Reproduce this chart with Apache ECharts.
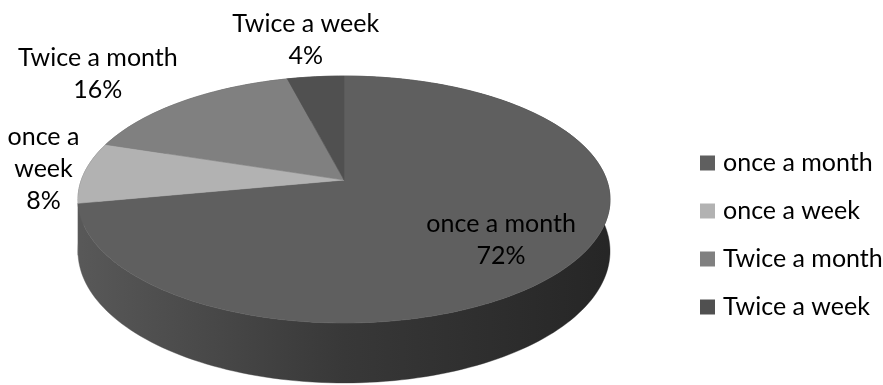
<!DOCTYPE html>
<html>
<head>
<meta charset="utf-8">
<script src="https://cdn.jsdelivr.net/npm/echarts@6/dist/echarts.min.js"></script>
<style>
  html, body { margin: 0; padding: 0; background: #ffffff; }
  #chart { width: 883px; height: 385px; }
</style>
</head>
<body>
<div id="chart"></div>
<script>
// Visit frequency shares (percent)
const categories = ['once a month', 'once a week', 'Twice a month', 'Twice a week'];
const shares = [72, 8, 16, 4];

// Face colour of each slice
const faceColors = ['#5f5f5f', '#b2b2b2', '#808080', '#505050'];

const FONT_FAMILY = 'Lato';
const FONT_SIZE = 25;
const LINE_HEIGHT = 32;

// Tilted disc with a light perspective: centre, radii, perspective factor, wall depth
const GEOM = { cx: 344, cy: 180, rx: 262.7, ry: 120.4, persp: 0.158, depth: 50.5 };

const total = shares.reduce((a, b) => a + b, 0);
const startAngles = [];
shares.reduce((acc, v, i) => { startAngles[i] = acc; return acc + v / total * 360; }, 0);

// Angle in degrees, clockwise from 12 o'clock; f = radius fraction; drop = wall offset
function project(deg, f, drop) {
  const t = deg * Math.PI / 180;
  const u = Math.sin(t) * f;
  const v = -Math.cos(t) * f;
  const k = 1 / (1 - GEOM.persp * v);
  return [GEOM.cx + GEOM.rx * u * k, GEOM.cy + (GEOM.ry * v + drop) * k];
}

const measureCtx = document.createElement('canvas').getContext('2d');
measureCtx.font = FONT_SIZE + 'px ' + FONT_FAMILY;
function textWidth(s) { return measureCtx.measureText(s).width; }

// Greedy word wrap to a maximum width
function wrap(text, maxWidth) {
  const out = [];
  text.split('\n').forEach(para => {
    let line = '';
    para.split(' ').forEach(w => {
      const trial = line ? line + ' ' + w : w;
      if (line && maxWidth && textWidth(trial) > maxWidth) { out.push(line); line = w; }
      else line = trial;
    });
    out.push(line);
  });
  return out;
}

// Outer wall lit from the left
const wallGradient = {
  type: 'linear', global: true,
  x: GEOM.cx - GEOM.rx, y: 0, x2: GEOM.cx + GEOM.rx, y2: 0,
  colorStops: [
    { offset: 0, color: '#585858' },
    { offset: 0.5, color: '#383838' },
    { offset: 1, color: '#262626' }
  ]
};

function makeRenderer(i) {
  return function (params, api) {
    const share = api.value(0);
    const span = share / total * 360;
    const a0 = startAngles[i];
    const n = Math.max(6, Math.ceil(span / 1.5));
    const topArc = [], lowArc = [];
    for (let s = 0; s <= n; s++) {
      const a = a0 + span * s / n;
      topArc.push(project(a, 1, 0));
      lowArc.push(project(a, 1, GEOM.depth));
    }
    const color = api.visual('color');

    // data label: inside for large slices, beside the rim otherwise
    const mid = a0 + span / 2;
    const labelText = categories[i] + '\n' + share + '%';
    const gap = 5;
    let cx, cy, lines;
    if (span > 90) {
      const p = project(mid, 0.72, 0);
      lines = wrap(labelText, 0);
      cx = p[0]; cy = p[1];
    } else {
      const t = mid * Math.PI / 180;
      const u = Math.sin(t), v = -Math.cos(t);
      const edge = project(mid, 1, 0);
      let maxW = 0;
      if (u < -0.35) maxW = edge[0] - gap - 2;
      else if (u > 0.35) maxW = api.getWidth() - edge[0] - gap - 2;
      lines = wrap(labelText, maxW);
      const boxW = Math.max.apply(null, lines.map(textWidth));
      const boxH = lines.length * LINE_HEIGHT;
      const halfW = boxW / 2 + gap;
      cx = Math.abs(u) > 0.35 ? edge[0] + Math.sign(u) * halfW : edge[0] + u * halfW;
      cy = edge[1] + v * (boxH / 2 + gap);
    }

    return {
      type: 'group',
      children: [
        { type: 'polygon', z2: 1, shape: { points: topArc.concat(lowArc.slice().reverse()) },
          style: { fill: wallGradient, stroke: wallGradient, lineWidth: 0.4 } },
        { type: 'polygon', z2: 10, shape: { points: [project(0, 0, 0)].concat(topArc) },
          style: { fill: color, stroke: color, lineWidth: 0.6 } },
        { type: 'text', z2: 20,
          style: { text: lines.join('\n'), x: cx, y: cy, align: 'center', verticalAlign: 'middle',
                   fill: '#000000', fontFamily: FONT_FAMILY, fontSize: FONT_SIZE, lineHeight: LINE_HEIGHT } }
      ]
    };
  };
}

const chart = echarts.init(document.getElementById('chart'), null, { renderer: 'canvas' });
chart.setOption({
  backgroundColor: '#ffffff',
  animation: false,
  color: faceColors,
  legend: {
    orient: 'vertical',
    left: 700,
    top: 148,
    padding: 0,
    itemWidth: 15,
    itemHeight: 15,
    itemGap: 18,
    icon: 'rect',
    data: categories,
    textStyle: { fontFamily: FONT_FAMILY, fontSize: FONT_SIZE, color: '#000000', lineHeight: 30, padding: [0, 0, 0, 3] }
  },
  series: categories.map((name, i) => ({
    type: 'custom',
    name: name,
    coordinateSystem: 'none',
    itemStyle: { color: faceColors[i] },
    data: [[shares[i]]],
    renderItem: makeRenderer(i)
  }))
});
</script>
</body>
</html>
